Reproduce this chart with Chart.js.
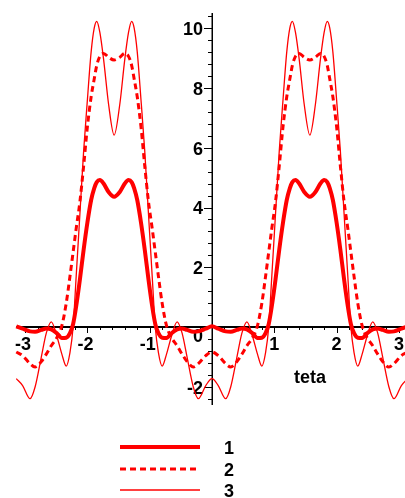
<!DOCTYPE html>
<html>
<head>
<meta charset="utf-8">
<script src="https://cdn.jsdelivr.net/npm/chart.js@4.4.0/dist/chart.umd.min.js"></script>
<style>
  html, body { margin: 0; padding: 0; background: #fff; }
  canvas { display: block; }
</style>
</head>
<body>
<canvas id="plot" width="405" height="498"></canvas>
<script>
// teta values (radians)
var teta = [-3.1416, -3.04, -2.92, -2.84, -2.74, -2.66, -2.58, -2.49, -2.41, -2.34, -2.28, -2.23, -2.18, -2.12, -2.06, -2.0,
  -1.94, -1.89, -1.85, -1.8, -1.74, -1.66, -1.5708, -1.48, -1.4, -1.34, -1.29, -1.25, -1.2, -1.14, -1.08, -1.02,
  -0.96, -0.91, -0.86, -0.8, -0.73, -0.65, -0.56, -0.48, -0.4, -0.3, -0.22, -0.1,
  0, 0.1, 0.22, 0.3, 0.4, 0.48, 0.56, 0.65, 0.73, 0.8, 0.86, 0.91, 0.96, 1.02, 1.08, 1.14, 1.2, 1.25, 1.29, 1.34,
  1.4, 1.48, 1.5708, 1.66, 1.74, 1.8, 1.85, 1.89, 1.94, 2.0, 2.06, 2.12, 2.18, 2.23, 2.28, 2.34, 2.41, 2.49,
  2.58, 2.66, 2.74, 2.84, 2.92, 3.04, 3.1416];

// curve 1 (thick)
var curve1 = [0.03, -0.05, -0.14, -0.15, -0.09, -0.04, -0.07, -0.2, -0.36, -0.35, -0.2, 0.1, 0.7, 1.6, 2.6, 3.5,
  4.25, 4.65, 4.85, 4.92, 4.8, 4.52, 4.36, 4.52, 4.8, 4.92, 4.85, 4.65, 4.25, 3.5, 2.6, 1.6,
  0.7, 0.1, -0.2, -0.35, -0.36, -0.2, -0.07, -0.04, -0.09, -0.15, -0.14, -0.05,
  0.03, -0.05, -0.14, -0.15, -0.09, -0.04, -0.07, -0.2, -0.36, -0.35, -0.2, 0.1, 0.7, 1.6, 2.6, 3.5, 4.25, 4.65, 4.85, 4.92,
  4.8, 4.52, 4.36, 4.52, 4.8, 4.92, 4.85, 4.65, 4.25, 3.5, 2.6, 1.6, 0.7, 0.1, -0.2, -0.35, -0.36, -0.2,
  -0.07, -0.04, -0.09, -0.15, -0.14, -0.05, 0.03];

// curve 2 (dashed)
var curve2 = [-0.83, -0.95, -1.22, -1.33, -1.15, -0.9, -0.62, -0.35, 0.05, 0.8, 1.7, 2.5, 3.3, 4.2, 5.4, 6.7,
  7.7, 8.3, 8.75, 9.05, 9.15, 9.02, 8.93, 9.02, 9.15, 9.05, 8.75, 8.3, 7.7, 6.7, 5.4, 4.2,
  3.3, 2.5, 1.7, 0.8, 0.05, -0.35, -0.62, -0.9, -1.15, -1.33, -1.22, -0.95,
  -0.83, -0.95, -1.22, -1.33, -1.15, -0.9, -0.62, -0.35, 0.05, 0.8, 1.7, 2.5, 3.3, 4.2, 5.4, 6.7, 7.7, 8.3, 8.75, 9.05,
  9.15, 9.02, 8.93, 9.02, 9.15, 9.05, 8.75, 8.3, 7.7, 6.7, 5.4, 4.2, 3.3, 2.5, 1.7, 0.8, 0.05, -0.35,
  -0.62, -0.9, -1.15, -1.33, -1.22, -0.95, -0.83];

// curve 3 (thin)
var curve3 = [-1.72, -1.95, -2.39, -2.0, -1.0, -0.2, 0.18, -0.3, -0.9, -1.3, -0.85, 0.0, 1.7, 3.8, 5.9, 7.6,
  9.2, 10.0, 10.22, 9.85, 8.95, 7.45, 6.42, 7.45, 8.95, 9.85, 10.22, 10.0, 9.2, 7.6, 5.9, 3.8,
  1.7, 0.0, -0.85, -1.3, -0.9, -0.3, 0.18, -0.2, -1.0, -2.0, -2.39, -1.95,
  -1.72, -1.95, -2.39, -2.0, -1.0, -0.2, 0.18, -0.3, -0.9, -1.3, -0.85, 0.0, 1.7, 3.8, 5.9, 7.6, 9.2, 10.0, 10.22, 9.85,
  8.95, 7.45, 6.42, 7.45, 8.95, 9.85, 10.22, 10.0, 9.2, 7.6, 5.9, 3.8, 1.7, 0.0, -0.85, -1.3, -0.9, -0.3,
  0.18, -0.2, -1.0, -2.0, -2.39, -1.95, -1.72];

var xTicks = [-3, -2, -1, 1, 2, 3];
var yTicks = [-2, 2, 4, 6, 8, 10];
var legendNames = ['1', '2', '3'];
var axisTitle = 'teta';

var RED = '#ff0000';
var FONT = 'bold 18px "Liberation Sans", Arial, sans-serif';

function pts(ys) {
  var out = [];
  for (var i = 0; i < teta.length; i++) out.push({ x: teta[i], y: ys[i] });
  return out;
}

var axesPlugin = {
  id: 'mapleAxes',
  beforeDatasetsDraw: function(chart) {
    var ctx = chart.ctx;
    var xs = chart.scales.x, ys = chart.scales.y;
    var area = chart.chartArea;
    var x0 = Math.round(xs.getPixelForValue(0));
    var y0 = Math.round(ys.getPixelForValue(0));
    ctx.save();
    ctx.strokeStyle = '#000';
    ctx.fillStyle = '#000';

    // axis lines
    ctx.lineWidth = 2;
    ctx.beginPath();
    ctx.moveTo(xs.getPixelForValue(-Math.PI), y0);
    ctx.lineTo(area.right, y0);
    ctx.stroke();
    ctx.lineWidth = 1.5;
    ctx.beginPath();
    ctx.moveTo(x0 + 0.25, area.top);
    ctx.lineTo(x0 + 0.25, area.bottom);
    ctx.stroke();

    // x ticks, minor every 0.2
    ctx.lineWidth = 1;
    for (var i = -15; i <= 15; i++) {
      var px = Math.round(xs.getPixelForValue(i * 0.2)) + 0.5;
      var len = (i % 5 === 0) ? 6 : 3;
      ctx.beginPath();
      ctx.moveTo(px, y0);
      ctx.lineTo(px, y0 + len);
      ctx.stroke();
    }
    // y ticks, minor every 0.4
    for (var j = -6; j <= 26; j++) {
      var py = Math.round(ys.getPixelForValue(j * 0.4)) + 0.5;
      var l2 = (j % 5 === 0) ? 8 : 4;
      ctx.beginPath();
      ctx.moveTo(x0 - l2, py);
      ctx.lineTo(x0, py);
      ctx.stroke();
    }

    ctx.font = FONT;
    ctx.textBaseline = 'middle';
    ctx.textAlign = 'center';
    xTicks.forEach(function(v) {
      ctx.fillText(String(v), xs.getPixelForValue(v) - (v < 0 ? 2 : 0), y0 + 18);
    });
    ctx.textAlign = 'right';
    yTicks.forEach(function(v) {
      ctx.fillText(String(v), x0 - 9, ys.getPixelForValue(v) + 2);
    });
    ctx.fillText('0', x0 - 9, y0 + 10);

    ctx.textAlign = 'center';
    ctx.fillText(axisTitle, 310, 378);
    ctx.restore();
  },
  afterDraw: function(chart) {
    var ctx = chart.ctx;
    var rows = [447, 469, 490];
    ctx.save();
    chart.data.datasets.forEach(function(ds, k) {
      ctx.strokeStyle = ds.borderColor;
      ctx.lineWidth = ds.borderWidth;
      ctx.setLineDash(ds.borderDash || []);
      ctx.beginPath();
      ctx.moveTo(120, rows[k]);
      ctx.lineTo(200, rows[k]);
      ctx.stroke();
      ctx.setLineDash([]);
      ctx.fillStyle = '#000';
      ctx.font = FONT;
      ctx.textAlign = 'center';
      ctx.textBaseline = 'middle';
      ctx.fillText(legendNames[k], 229, rows[k] + 2);
    });
    ctx.restore();
  }
};

new Chart(document.getElementById('plot'), {
  type: 'line',
  data: {
    datasets: [
      { label: legendNames[0], data: pts(curve1), borderColor: RED, borderWidth: 4, pointRadius: 0, cubicInterpolationMode: 'monotone' },
      { label: legendNames[1], data: pts(curve2), borderColor: RED, borderWidth: 3, borderDash: [6, 4], pointRadius: 0, cubicInterpolationMode: 'monotone' },
      { label: legendNames[2], data: pts(curve3), borderColor: RED, borderWidth: 1.3, pointRadius: 0, cubicInterpolationMode: 'monotone' }
    ]
  },
  options: {
    responsive: false,
    animation: false,
    devicePixelRatio: 1,
    layout: { padding: { left: 0, right: 0, top: 13, bottom: 93 } },
    plugins: { legend: { display: false }, tooltip: { enabled: false } },
    scales: {
      x: { type: 'linear', min: -3.403, max: 3.098, display: false },
      y: { type: 'linear', min: -2.6, max: 10.5, display: false }
    }
  },
  plugins: [axesPlugin]
});
</script>
</body>
</html>
